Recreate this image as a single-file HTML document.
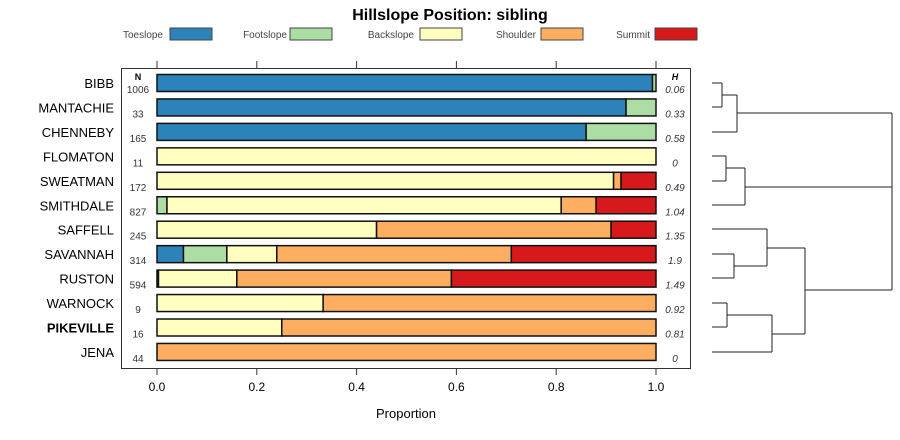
<!DOCTYPE html>
<html><head><meta charset="utf-8"><style>
body{margin:0;background:#fff;}
svg{display:block;font-family:"Liberation Sans",Arial,sans-serif;}
</style></head><body>
<svg id="c" width="900" height="440" viewBox="0 0 900 440"></svg>
<script>
const categories=["BIBB","MANTACHIE","CHENNEBY","FLOMATON","SWEATMAN","SMITHDALE","SAFFELL","SAVANNAH","RUSTON","WARNOCK","PIKEVILLE","JENA"];
const counts=[1006,33,165,11,172,827,245,314,594,9,16,44];
const entropy=["0.06","0.33","0.58","0","0.49","1.04","1.35","1.9","1.49","0.92","0.81","0"];
const seriesNames=["Toeslope","Footslope","Backslope","Shoulder","Summit"];
const toeslope=[0.993,0.94,0.86,0,0,0,0,0.053,0.003,0,0,0];
const footslope=[0.007,0.06,0.14,0,0,0.02,0,0.087,0,0,0,0];
const backslope=[0,0,0,1,0.915,0.79,0.44,0.10,0.157,0.333,0.25,0];
const shoulder=[0,0,0,0,0.015,0.07,0.47,0.47,0.43,0.667,0.75,1];
const summit=[0,0,0,0,0.07,0.12,0.09,0.29,0.41,0,0,0];
const xTicks=[0,0.2,0.4,0.6,0.8,1.0];
const colors=["#2b83ba","#abdda4","#ffffbf","#fdae61","#d7191c"];
const series=[toeslope,footslope,backslope,shoulder,summit];
const NS="http://www.w3.org/2000/svg";
const svg=document.getElementById('c');
function mk(t,a,txt){const e=document.createElementNS(NS,t);for(const k in a)e.setAttribute(k,a[k]);if(txt!==undefined)e.textContent=txt;svg.appendChild(e);return e;}
const x0=157,x1=656;
const xs=v=>x0+(x1-x0)*v;
const ys=i=>83+i*24.45;
let e=mk('text',{x:450,y:20,'text-anchor':'middle','font-size':16,'font-weight':'bold'},'Hillslope Position: sibling');


// legend
const legX=[[163,170],[287,290],[414,420],[536,541],[650,655]];
seriesNames.forEach((n,k)=>{
 let t=mk('text',{x:legX[k][0],y:38,'text-anchor':'end','font-size':10,fill:'#444'},n);
 
 
 let r=mk('rect',{x:legX[k][1],y:28,width:42,height:12,fill:colors[k],stroke:'#444','stroke-width':1});
 
 
});
// frame
e=mk('rect',{x:121.5,y:68.5,width:569,height:300,fill:'none',stroke:'#333','stroke-width':1});


xTicks.forEach(v=>{
 const x=xs(v);
 mk('line',{x1:x,x2:x,y1:61,y2:68,stroke:'#333'});
 mk('line',{x1:x,x2:x,y1:368,y2:375,stroke:'#333'});
 let t=mk('text',{x:x,y:391,'text-anchor':'middle','font-size':12},v.toFixed(1));
 
 
});
e=mk('text',{x:406,y:418,'text-anchor':'middle','font-size':13},'Proportion');


e=mk('text',{x:138,y:80,'text-anchor':'middle','font-size':9,'font-weight':'bold'},'N');


e=mk('text',{x:675,y:80,'text-anchor':'middle','font-size':9,'font-weight':'bold','font-style':'italic'},'H');


categories.forEach((c,i)=>{
 const y=ys(i);
 let t=mk('text',{x:114,y:y+5,'text-anchor':'end','font-size':13,'font-weight':c==='PIKEVILLE'?'bold':'normal'},c);
 
 
 t=mk('text',{x:138,y:y+10,'text-anchor':'middle','font-size':10,fill:'#333'},counts[i]);
 
 
 t=mk('text',{x:675,y:y+10,'text-anchor':'middle','font-size':10,'font-style':'italic',fill:'#333'},entropy[i]);
 
 
 let acc=0;
 series.forEach((s,k)=>{
  const v=s[i]; if(v<=0) return;
  const r=mk('rect',{x:xs(acc),y:y-8.5,width:xs(acc+v)-xs(acc),height:17,fill:colors[k],stroke:'#111','stroke-width':1.5});
  
  
  acc+=v;
 });
});
// dendrogram
const seg=[[712,83,722,83],[712,107,722,107],[722,83,722,107],[722,95,737,95],[712,132,737,132],[737,95,737,132],[737,113,892,113],
[712,156,726,156],[712,181,726,181],[726,156,726,181],[726,168,745,168],[712,205,745,205],[745,168,745,205],[745,187,892,187],
[712,229,767,229],[712,254,734,254],[712,278,734,278],[734,254,734,278],[734,266,767,266],[767,229,767,266],[767,248,805,248],
[712,303,727,303],[712,327,727,327],[727,303,727,327],[727,315,772,315],[712,352,772,352],[772,315,772,352],[772,334,805,334],
[805,248,805,334],[805,290,892,290],[892,113,892,290]];
const g=document.createElementNS(NS,'g');svg.appendChild(g);
seg.forEach(s=>{const l=document.createElementNS(NS,'line');l.setAttribute('x1',s[0]);l.setAttribute('y1',s[1]);l.setAttribute('x2',s[2]);l.setAttribute('y2',s[3]);l.setAttribute('stroke','#222');g.appendChild(l);});
</script>
</body></html>
